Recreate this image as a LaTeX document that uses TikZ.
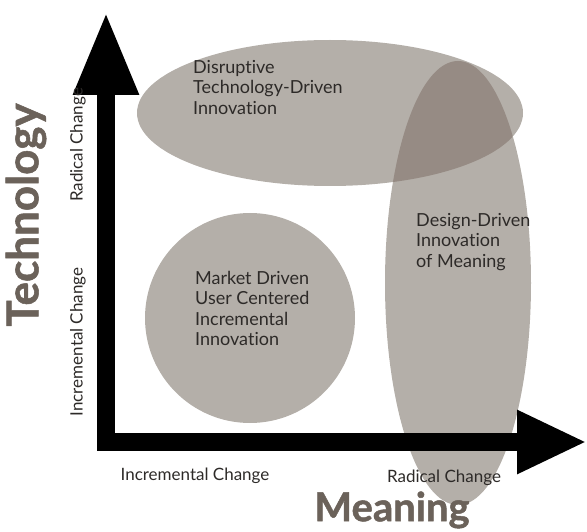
\documentclass[tikz,border=0pt]{standalone}
\usepackage{fontspec}
\setmainfont{Lato}[Ligatures=NoCommon]
\newfontfamily\titlefont{Lato}[FakeBold=1.2]
\usetikzlibrary{arrows.meta}
\definecolor{ovalgray}{RGB}{180,175,169}
\definecolor{overlapgray}{RGB}{150,139,132}
\definecolor{titlebrown}{RGB}{107,98,90}
\definecolor{textdark}{RGB}{45,42,40}

\begin{document}
\begin{tikzpicture}[x=1pt,y=-1pt,
  oval/.style={fill=ovalgray},
  areatext/.style={anchor=north west,inner sep=0pt,align=left,text=textdark,font=\fontsize{18}{20.5}\selectfont},
  scaletext/.style={inner sep=0pt,text=textdark,font=\fontsize{17}{18}\selectfont},
  axistitle/.style={inner sep=0pt,text=titlebrown},
  axisarrow/.style={line width=18pt,line join=miter}]
  \useasboundingbox (0,0) rectangle (587,532);
  % areas
  \fill[oval] (330,113) ellipse [x radius=193, y radius=73];
  \fill[oval] (250,318) circle (105);
  \fill[oval] (458,283) ellipse [x radius=73, y radius=222];
  \begin{scope}
    \clip (330,113) ellipse [x radius=193, y radius=73];
    \fill[overlapgray] (458,283) ellipse [x radius=73, y radius=222];
  \end{scope}
  % axes
  \coordinate (origin) at (106,442);
  \coordinate (ytip) at (106,12);
  \coordinate (xtip) at (587,442);
  \draw[axisarrow,{Triangle[length=83pt,width=61pt]}-{Triangle[length=70pt,width=59pt]}] (ytip) -- (origin) -- (xtip);
  % texts
  \node[areatext] (disruptive) at (193,60) {Disruptive\\Technology-Driven\\Innovation};
  \node[areatext] (market) at (195,271) {Market Driven\\User Centered\\Incremental\\Innovation};
  \node[areatext] (design) at (416,213) {Design-Driven\\Innovation\\of Meaning};
  \node[scaletext,rotate=90] (yradical) at (78,145) {Radical Change};
  \node[scaletext,rotate=90] (yincr) at (78,342) {Incremental Change};
  \node[scaletext] (xincr) at (195,476) {Incremental Change};
  \node[scaletext] (xradical) at (444,478) {Radical Change};
  \node[axistitle,rotate=90,font=\titlefont\fontsize{44}{48}\selectfont\bfseries] (technology) at (26,215) {Technology};
  \node[axistitle,font=\titlefont\fontsize{40}{44}\selectfont\bfseries] (meaning) at (392,510) {Meaning};
\end{tikzpicture}
\end{document}
